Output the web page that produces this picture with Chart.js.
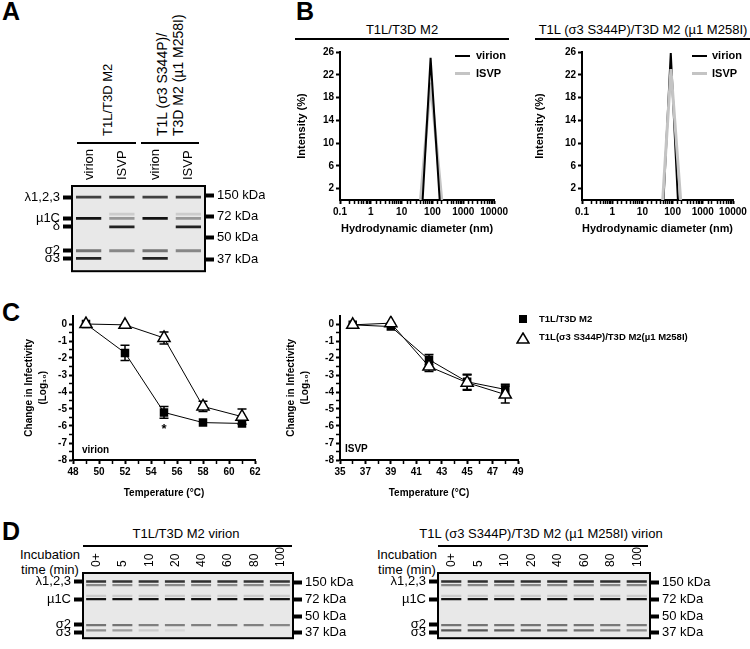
<!DOCTYPE html>
<html>
<head>
<meta charset="utf-8">
<script src="https://cdn.jsdelivr.net/npm/chart.js@4/dist/chart.umd.min.js"></script>
<style>
body { margin: 0; width: 750px; height: 649px; position: relative; background: #fff; overflow: hidden;
       font-family: 'Liberation Sans', Arial, sans-serif; color: #000; }
canvas, .t, .rule { position: absolute; }
.t { white-space: nowrap; line-height: 1; }
.rule { background: #000; height: 2px; }
</style>
</head>
<body>
<script>
// ---------- data ----------
// A: SDS-PAGE, band position = fraction of gel length from the top
const gelALanes = ['virion', 'ISVP', 'virion', 'ISVP'];
const gelAProteins = ['λ1,2,3', 'µ1C', 'δ', 'σ2', 'σ3'];
const gelAProteinPos = [0.13, 0.38, 0.48, 0.76, 0.85];
const gelAMarkers = ['150 kDa', '72 kDa', '50 kDa', '37 kDa'];
const gelAMarkerPos = [0.11, 0.36, 0.60, 0.86];
const gelABandPos = [0.13, 0.33, 0.38, 0.48, 0.76, 0.85];
const gelABandInt = [            // 0 = no band, 1 = black
  [0.72, 0.72, 0.72, 0.72],
  [0, 0.12, 0, 0.12],
  [0.92, 0.35, 0.92, 0.35],
  [0, 0.85, 0, 0.85],
  [0.5, 0.42, 0.5, 0.42],
  [0.85, 0, 0.85, 0]
];

// B: dynamic light scattering, diameter (nm) vs intensity (%)
const dlsTicks = [2, 6, 10, 14, 18, 22, 26];
const dlsWtVirionX = [48, 87, 172];
const dlsWtVirionY = [0, 25, 0];
const dlsWtIsvpX = [41, 87, 200];
const dlsWtIsvpY = [0, 20.6, 0];
const dlsMutVirionX = [50, 87, 150];
const dlsMutVirionY = [0, 25.8, 0];
const dlsMutIsvpX = [47, 88, 185];
const dlsMutIsvpY = [0, 23, 0];

// C: thermal inactivation, change in infectivity (log10)
const virionTemps = [49, 52, 55, 58, 61];
const virionWt = [0, -1.7, -5.2, -5.8, -5.85];
const virionWtErr = [0, 0.45, 0.35, 0, 0];
const virionMut = [0, -0.05, -0.82, -4.85, -5.45];
const virionMutErr = [0, 0, 0.35, 0.3, 0.45];
const isvpTemps = [36, 39, 42, 45, 48];
const isvpWt = [-0.05, -0.15, -2.1, -3.4, -3.85];
const isvpWtErr = [0, 0, 0.3, 0.45, 0.3];
const isvpMut = [-0.05, 0.05, -2.5, -3.45, -4.15];
const isvpMutErr = [0, 0, 0.3, 0.45, 0.5];

// D: SDS-PAGE of virions over incubation time
const gelDLanes = ['0+', '5', '10', '20', '40', '60', '80', '100'];
const gelDProteins = ['λ1,2,3', 'µ1C', 'σ2', 'σ3'];
const gelDProteinPos = [0.13, 0.40, 0.79, 0.905];
const gelDMarkers = ['150 kDa', '72 kDa', '50 kDa', '37 kDa'];
const gelDMarkerPos = [0.145, 0.40, 0.665, 0.905];
const gelDBandPos = [0.13, 0.185, 0.35, 0.40, 0.80, 0.88];
const gelDWtInt = [
  [0.78, 0.78, 0.78, 0.78, 0.8, 0.78, 0.78, 0.78],
  [0.4, 0.4, 0.4, 0.4, 0.4, 0.4, 0.4, 0.4],
  [0.12, 0.12, 0.12, 0.12, 0.12, 0.12, 0.12, 0.12],
  [0.92, 0.92, 0.92, 0.92, 0.92, 0.92, 0.92, 0.92],
  [0.5, 0.5, 0.45, 0.45, 0.45, 0.45, 0.45, 0.42],
  [0.38, 0.32, 0.12, 0.07, 0, 0, 0, 0]
];
const gelDMutInt = [
  [0.8, 0.8, 0.8, 0.8, 0.8, 0.8, 0.8, 0.8],
  [0.42, 0.42, 0.42, 0.42, 0.42, 0.42, 0.42, 0.42],
  [0.12, 0.12, 0.12, 0.12, 0.12, 0.12, 0.12, 0.12],
  [0.92, 0.92, 0.92, 0.92, 0.92, 0.92, 0.92, 0.92],
  [0.5, 0.5, 0.5, 0.5, 0.5, 0.5, 0.48, 0.48],
  [0.62, 0.62, 0.6, 0.58, 0.55, 0.52, 0.45, 0.4]
];

// ---------- helpers ----------
Chart.defaults.font.family = "'Liberation Sans', Arial, sans-serif";
Chart.defaults.color = '#000';

function makeCanvas(x, y, w, h) {
  const c = document.createElement('canvas');
  c.width = w; c.height = h;
  c.style.left = x + 'px'; c.style.top = y + 'px';
  c.style.width = w + 'px'; c.style.height = h + 'px';
  document.body.appendChild(c);
  return c;
}

function txt(html, x, y, css, center) {
  const d = document.createElement('div');
  d.className = 't';
  d.innerHTML = html;
  d.style.left = x + 'px'; d.style.top = y + 'px';
  if (center) d.style.transform = 'translate(-50%,-50%)';
  Object.assign(d.style, css || {});
  document.body.appendChild(d);
  return d;
}

function rule(x1, x2, y) {
  const d = document.createElement('div');
  d.className = 'rule';
  d.style.left = x1 + 'px'; d.style.width = (x2 - x1) + 'px'; d.style.top = (y - 1) + 'px';
  document.body.appendChild(d);
}

// rotated text reading bottom-to-top, bottom edge at y, left edge at x
function vtxt(html, x, y, size) {
  txt(html, x, y, { fontSize: size + 'px', lineHeight: '16px', transformOrigin: '0 0', transform: 'rotate(-90deg)' });
}

function shade(i) {
  const v = Math.round(232 * (1 - i));
  return 'rgb(' + v + ',' + v + ',' + v + ')';
}

const gelBox = {
  id: 'gelBox',
  beforeDatasetsDraw(chart) {
    const { ctx, chartArea: a } = chart;
    ctx.save();
    ctx.fillStyle = '#e8e8e8';
    ctx.fillRect(a.left, a.top, a.right - a.left, a.bottom - a.top);
    ctx.restore();
  },
  afterDatasetsDraw(chart) {
    const { ctx, chartArea: a } = chart;
    ctx.save();
    ctx.strokeStyle = '#000'; ctx.lineWidth = 2;
    ctx.strokeRect(a.left, a.top, a.right - a.left, a.bottom - a.top);
    ctx.restore();
  }
};

function gelChart(left, top, w, h, g) {
  const markerAxis = (pos, labels, side, width) => ({
    type: 'linear', position: side, reverse: true, min: 0, max: 1,
    afterBuildTicks: s => { s.ticks = pos.map(v => ({ value: v })); },
    afterFit: s => { s.width = width; },
    ticks: { autoSkip: false, padding: 3, font: { size: 13 }, callback: (v, i) => labels[i] },
    grid: { drawOnChartArea: false, tickLength: 9, tickWidth: 4, tickColor: '#000' },
    border: { display: false }
  });
  const chart = new Chart(makeCanvas(left, top, w, h), {
    type: 'bar',
    data: {
      labels: g.lanes,
      datasets: g.bandPos.map((pos, i) => ({
        data: g.lanes.map((_, j) => g.bandInt[i][j] > 0 ? [pos - g.bandH / 2, pos + g.bandH / 2] : null),
        backgroundColor: g.lanes.map((_, j) => shade(g.bandInt[i][j])),
        barPercentage: 0.76, categoryPercentage: 1, grouped: false, borderWidth: 0
      }))
    },
    options: {
      responsive: false, animation: false, devicePixelRatio: 1,
      layout: { padding: { bottom: g.bottom } },
      plugins: { legend: { display: false }, tooltip: { enabled: false } },
      scales: {
        x: {
          position: 'top',
          afterFit: s => { s.height = g.top; },
          ticks: { display: false },
          grid: { display: false }, border: { display: false }
        },
        y: markerAxis(g.leftPos, g.leftLabels, 'left', g.leftW),
        yR: markerAxis(g.rightPos, g.rightLabels, 'right', g.rightW)
      }
    },
    plugins: [gelBox]
  });
  // lane names, written upward above each lane
  g.lanes.forEach((name, j) => {
    vtxt(name, left + chart.scales.x.getPixelForValue(j) - 8, top + chart.chartArea.top - 6, g.laneFont);
  });
  return chart;
}

function isDecade(v) {
  const l = Math.log10(v);
  return Math.abs(l - Math.round(l)) < 1e-6;
}

function dlsChart(cv, yW, padR, series) {
  return new Chart(cv, {
    type: 'line',
    data: {
      datasets: series.map(s => ({
        label: s.label,
        data: s.x.map((x, i) => ({ x: x, y: s.y[i] })),
        borderColor: s.color, borderWidth: s.width, pointRadius: 0, tension: 0
      }))
    },
    options: {
      responsive: false, animation: false, devicePixelRatio: 1,
      layout: { padding: { top: 12, right: padR } },
      plugins: { legend: { display: false }, tooltip: { enabled: false } },
      scales: {
        x: {
          type: 'logarithmic', min: 0.1, max: 10000,
          afterFit: s => { s.height = 40; },
          ticks: {
            autoSkip: false, maxRotation: 0, padding: 2, font: { size: 10, weight: 'bold' },
            callback: v => {
              if (!isDecade(v)) return '';
              const e = Math.round(Math.log10(v));
              return e < 0 ? v.toFixed(-e) : String(Math.round(v));
            }
          },
          grid: { drawOnChartArea: false, tickLength: 4, tickColor: '#000',
                  tickWidth: c => isDecade(c.tick.value) ? 2 : 1.5 },
          border: { color: '#000', width: 2 },
          title: { display: true, text: 'Hydrodynamic diameter (nm)', font: { size: 11, weight: 'bold' } }
        },
        y: {
          min: 0, max: 26,
          afterBuildTicks: s => { s.ticks = dlsTicks.map(v => ({ value: v })); },
          afterFit: s => { s.width = yW; },
          ticks: { autoSkip: false, padding: 2, font: { size: 10, weight: 'bold' } },
          grid: { drawOnChartArea: false, tickLength: 4, tickWidth: 2, tickColor: '#000' },
          border: { color: '#000', width: 2 },
          title: { display: true, text: 'Intensity (%)', font: { size: 11, weight: 'bold' } }
        }
      }
    }
  });
}

const errorBars = {
  id: 'errorBars',
  beforeDatasetsDraw(chart) {
    const { ctx, scales: { x, y } } = chart;
    ctx.save();
    ctx.strokeStyle = '#000'; ctx.lineWidth = 1.5;
    chart.data.datasets.forEach(ds => {
      (ds.errors || []).forEach((e, i) => {
        if (!e) return;
        const p = ds.data[i];
        const px = x.getPixelForValue(p.x);
        const t = y.getPixelForValue(p.y + e), b = y.getPixelForValue(p.y - e);
        ctx.beginPath();
        ctx.moveTo(px, t); ctx.lineTo(px, b);
        ctx.moveTo(px - 4.5, t); ctx.lineTo(px + 4.5, t);
        ctx.moveTo(px - 4.5, b); ctx.lineTo(px + 4.5, b);
        ctx.stroke();
      });
    });
    ctx.restore();
  }
};

const notes = {
  id: 'notes',
  afterDatasetsDraw(chart, args, opts) {
    const { ctx, scales: { x, y } } = chart;
    ctx.save();
    ctx.font = 'bold 13px "Liberation Sans", Arial, sans-serif';
    ctx.textAlign = 'center'; ctx.textBaseline = 'middle'; ctx.fillStyle = '#000';
    (opts.items || []).forEach(n => ctx.fillText(n.text, x.getPixelForValue(n.x), y.getPixelForValue(n.y)));
    ctx.restore();
  }
};

function inactChart(cv, yW, padR, temps, wt, wtErr, mut, mutErr, xmin, xmax, items) {
  const pts = v => temps.map((t, i) => ({ x: t, y: v[i] }));
  return new Chart(cv, {
    type: 'line',
    data: {
      datasets: [
        { label: 'T1L(σ3 S344P)/T3D M2(µ1 M258I)', data: pts(mut), errors: mutErr,
          borderColor: '#000', borderWidth: 1, pointStyle: 'triangle', pointRadius: 7,
          pointBackgroundColor: '#fff', pointBorderColor: '#000', pointBorderWidth: 1.5 },
        { label: 'T1L/T3D M2', data: pts(wt), errors: wtErr,
          borderColor: '#000', borderWidth: 1, pointStyle: 'rect', pointRadius: 6,
          pointBackgroundColor: '#000', pointBorderColor: '#000', pointBorderWidth: 0 }
      ]
    },
    options: {
      responsive: false, animation: false, devicePixelRatio: 1,
      layout: { padding: { top: 10.5, right: padR } },
      plugins: { legend: { display: false }, tooltip: { enabled: false }, notes: { items: items } },
      scales: {
        x: {
          type: 'linear', min: xmin, max: xmax,
          afterFit: s => { s.height = 43; },
          ticks: { stepSize: 1, autoSkip: false, maxRotation: 0, padding: 2, font: { size: 10, weight: 'bold' },
                   callback: v => (v - xmin) % 2 === 0 ? String(v) : '' },
          grid: { drawOnChartArea: false, tickLength: 4, tickColor: '#000',
                  tickWidth: c => (c.tick.value - xmin) % 2 === 0 ? 2 : 1.5 },
          border: { color: '#000', width: 2 },
          title: { display: true, text: 'Temperature (°C)', font: { size: 10, weight: 'bold' } }
        },
        y: {
          min: -8, max: 0.5,
          afterFit: s => { s.width = yW; },
          ticks: { stepSize: 0.5, autoSkip: false, padding: 2, font: { size: 10, weight: 'bold' },
                   callback: v => Number.isInteger(v) ? String(v) : '' },
          grid: { drawOnChartArea: false, tickLength: 4,
                  tickColor: c => c.tick.value > 0 ? 'rgba(0,0,0,0)' : '#000',
                  tickWidth: c => Number.isInteger(c.tick.value) ? 2 : 1.5 },
          border: { color: '#000', width: 2 },
          title: { display: true, text: ['Change in Infectivity', '(Log₁₀)'],
                   font: { size: 10, weight: 'bold', lineHeight: 1.4 } }
        }
      }
    },
    plugins: [errorBars, notes]
  });
}

// ---------- panel letters ----------
const letterCss = { fontSize: '25px', fontWeight: 'bold' };
txt('A', 2, -1, letterCss);
txt('B', 296, -1, letterCss);
txt('C', 2, 300, letterCss);
txt('D', 2, 519, letterCss);

// ---------- A ----------
vtxt('T1L/T3D M2', 100, 136, 13);
vtxt('T1L (σ3 S344P)/<br>T3D M2 (µ1 M258I)', 154, 136, 14);
rule(77, 136, 143);
rule(141, 199, 143);
gelChart(0, 140, 265, 142, {
  lanes: gelALanes, bandPos: gelABandPos, bandInt: gelABandInt, bandH: 0.034,
  leftPos: gelAProteinPos, leftLabels: gelAProteins, rightPos: gelAMarkerPos, rightLabels: gelAMarkers,
  leftW: 72, rightW: 60, top: 46, bottom: 4, laneFont: 13
});

// ---------- B ----------
txt('T1L/T3D M2', 402, 29, { fontSize: '13px' }, true);
rule(295, 509, 39);
txt('T1L (σ3 S344P)/T3D M2 (µ1 M258I)', 643, 29, { fontSize: '13px' }, true);
rule(535, 750, 39);
dlsChart(makeCanvas(291, 40, 219, 200), 49, 14, [
  { label: 'virion', x: dlsWtVirionX, y: dlsWtVirionY, color: '#000', width: 2 },
  { label: 'ISVP', x: dlsWtIsvpX, y: dlsWtIsvpY, color: '#c4c4c4', width: 3 }
]);
dlsChart(makeCanvas(529, 40, 221, 200), 53, 17, [
  { label: 'ISVP', x: dlsMutIsvpX, y: dlsMutIsvpY, color: '#c4c4c4', width: 3 },
  { label: 'virion', x: dlsMutVirionX, y: dlsMutVirionY, color: '#000', width: 2 }
]);
[[455, 476], [692, 712]].forEach(([lx, tx]) => {
  const s1 = document.createElement('div');
  s1.className = 'rule'; Object.assign(s1.style, { left: lx + 'px', width: '15px', top: '55px' });
  document.body.appendChild(s1);
  const s2 = document.createElement('div');
  s2.className = 'rule'; Object.assign(s2.style, { left: lx + 'px', width: '15px', top: '72px', height: '3px', background: '#c4c4c4' });
  document.body.appendChild(s2);
  txt('virion', tx, 50, { fontSize: '11px', fontWeight: 'bold' });
  txt('ISVP', tx, 68, { fontSize: '11px', fontWeight: 'bold' });
});

// ---------- C ----------
inactChart(makeCanvas(18, 305, 247, 198), 55, 10, virionTemps, virionWt, virionWtErr, virionMut, virionMutErr,
  48, 62, [{ x: 55, y: -6.2, text: '*' }]);
inactChart(makeCanvas(280, 305, 250, 198), 60, 12, isvpTemps, isvpWt, isvpWtErr, isvpMut, isvpMutErr, 35, 49, []);
txt('virion', 82, 445, { fontSize: '10px', fontWeight: 'bold' });
txt('ISVP', 345, 444, { fontSize: '10px', fontWeight: 'bold' });
txt('<div style="width:8px;height:8px;background:#000"></div>', 519, 315, {});
txt('<svg width="14" height="12"><polygon points="7,1 13,11 1,11" fill="#fff" stroke="#000" stroke-width="1.5"/></svg>',
  516, 331, {});
txt('T1L/T3D M2', 539, 314, { fontSize: '9.5px', fontWeight: 'bold' });
txt('T1L(σ3 S344P)/T3D M2(µ1 M258I)', 539, 332, { fontSize: '9.5px', fontWeight: 'bold' });

// ---------- D ----------
txt('T1L/T3D M2 virion', 186, 533, { fontSize: '13px' }, true);
rule(83, 292, 546);
txt('T1L (σ3 S344P)/T3D M2 (µ1 M258I) virion', 541, 533, { fontSize: '13px' }, true);
rule(438, 648, 546);
txt('Incubation<br>time (min)', 50, 562, { fontSize: '13px', lineHeight: '15px', textAlign: 'center' }, true);
txt('Incubation<br>time (min)', 407, 562, { fontSize: '13px', lineHeight: '15px', textAlign: 'center' }, true);
gelChart(0, 545, 370, 104, {
  lanes: gelDLanes, bandPos: gelDBandPos, bandInt: gelDWtInt, bandH: 0.036,
  leftPos: gelDProteinPos, leftLabels: gelDProteins, rightPos: gelDMarkerPos, rightLabels: gelDMarkers,
  leftW: 83, rightW: 77, top: 28, bottom: 1, laneFont: 12
});
gelChart(370, 545, 380, 104, {
  lanes: gelDLanes, bandPos: gelDBandPos, bandInt: gelDMutInt, bandH: 0.036,
  leftPos: gelDProteinPos, leftLabels: gelDProteins, rightPos: gelDMarkerPos, rightLabels: gelDMarkers,
  leftW: 68, rightW: 100, top: 28, bottom: 1, laneFont: 12
});
</script>
</body>
</html>
